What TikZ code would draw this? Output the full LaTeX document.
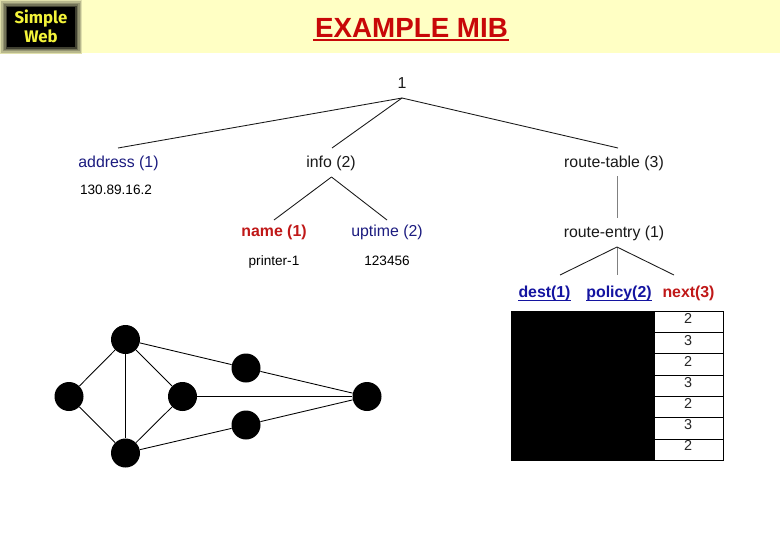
\documentclass[tikz,border=0pt]{standalone}
\usepackage{fontspec}
\setmainfont{Liberation Sans}
\newfontfamily\logofont{Fira Sans}
\newcommand{\pxfont}[1]{\fontsize{#1}{#1}\selectfont}
\definecolor{banner}{HTML}{FFFFC4}
\definecolor{titlered}{HTML}{C80808}
\definecolor{darkred}{HTML}{C01818}
\definecolor{navy}{HTML}{1C1C80}
\definecolor{linkblue}{HTML}{1414A0}
\definecolor{logoyellow}{HTML}{F4F43A}
\tikzset{
  lbl/.style={font=\pxfont{11.9}, inner sep=0pt, anchor=base, text=black!90},
  boldlbl/.style={font=\pxfont{11.9}\bfseries, inner sep=0pt, anchor=base},
  val/.style={font=\pxfont{10.2}, inner sep=0pt, anchor=base, text=black},
  edge/.style={draw=black!90, line width=0.65pt},
  greyedge/.style={draw=black!50, line width=0.65pt},
  dotnode/.style={circle, fill=black, draw=none, minimum size=21.75pt, inner sep=0pt},
  net/.style={draw=black, line width=0.65pt},
  cellnum/.style={font=\pxfont{10.8}, inner sep=0pt, anchor=base, text=black!85},
  rowline/.style={draw=black, line width=0.6pt},
  logotext/.style={inner sep=0pt, text=logoyellow, font=\logofont\bfseries\pxfont{12.6}},
}
\begin{document}
\begin{tikzpicture}[x=0.75pt,y=-0.75pt]
\useasboundingbox (0,0) rectangle (780,540);
\fill[white] (0,0) rectangle (780,540);
% banner
\fill[banner] (0,0) rectangle (780,53);
% logo
\fill[black!12!banner] (0,0) rectangle (82,53.5);
\fill[black!28!banner] (1,1) rectangle (81,52.5);
\fill[black!42!banner] (2.5,2.5) rectangle (79.5,51);
\fill[black!55!banner] (4,4) rectangle (78,50);
\fill[black!75!banner] (5.5,5.5) rectangle (76.5,48.5);
\fill[black] (7,7) rectangle (75,47);
\node[logotext] (logoa) at (41,19) {Simple};
\node[logotext] (logob) at (41,36.5) {Web};
% title
\node[inner sep=0pt, anchor=base, text=titlered, font=\pxfont{20.8}\bfseries] (title) at (411.5,37) {EXAMPLE MIB};
\fill[titlered] ([xshift=-1.5pt,yshift=-1.6pt]title.base west) rectangle ([xshift=0.8pt,yshift=-3.1pt]title.base east);
% tree
\node[lbl] (root) at (402,88) {1};
\node[lbl, text=navy] (addr) at (118.5,167) {address (1)};
\node[val] (addrv) at (116,194) {130.89.16.2};
\node[lbl] (info) at (331,167) {info (2)};
\node[lbl] (rt) at (614,167) {route-table (3)};
\node[boldlbl, text=darkred] (name) at (274,236.5) {name (1)};
\node[lbl, text=navy] (uptime) at (387,236.5) {uptime (2)};
\node[val] (namev) at (274,265) {printer-1};
\node[val] (uptimev) at (387,265) {123456};
\node[lbl] (re) at (614,237.5) {route-entry (1)};
\node[boldlbl, text=linkblue] (dest) at (544.5,297.5) {dest(1)};
\node[boldlbl, text=linkblue] (policy) at (619,297.5) {policy(2)};
\node[boldlbl, text=darkred] (next) at (688.5,297.5) {next(3)};
\draw[linkblue, line width=1pt] ([yshift=-2pt]dest.base west) -- ([yshift=-2pt]dest.base east);
\draw[linkblue, line width=1pt] ([yshift=-2pt]policy.base west) -- ([yshift=-2pt]policy.base east);
% tree connectors
\coordinate (rootj) at (402,98);
\coordinate (ca) at (118,148);
\coordinate (cb) at (332,148);
\coordinate (cc) at (618,148);
\coordinate (infoj) at (331.5,177);
\coordinate (cn) at (274,220);
\coordinate (cu) at (387,220);
\coordinate (rta) at (617,176);
\coordinate (rtb) at (617,218);
\coordinate (rej) at (617,247);
\coordinate (cd) at (560,275);
\coordinate (cp) at (617,275);
\coordinate (cx) at (674,275);
\draw[edge] (rootj) -- (ca);
\draw[edge] (rootj) -- (cb);
\draw[edge] (rootj) -- (cc);
\draw[edge] (infoj) -- (cn);
\draw[edge] (infoj) -- (cu);
\draw[greyedge] (rta) -- (rtb);
\draw[edge] (rej) -- (cd);
\draw[greyedge] (rej) -- (cp);
\draw[edge] (rej) -- (cx);
% network
\node[dotnode] (n1) at (125.5,339.5) {};
\node[dotnode] (n2) at (69,396.5) {};
\node[dotnode] (n3) at (182.5,396.5) {};
\node[dotnode] (n4) at (125.5,453) {};
\node[dotnode] (n5) at (246,368) {};
\node[dotnode] (n6) at (246,425) {};
\node[dotnode] (n7) at (367,396.5) {};
\draw[net] (n1) -- (n2);
\draw[net] (n1) -- (n3);
\draw[net] (n1) -- (n4);
\draw[net] (n2) -- (n4);
\draw[net] (n3) -- (n4);
\draw[net] (n1) -- (n5);
\draw[net] (n5) -- (n7);
\draw[net] (n3) -- (n7);
\draw[net] (n4) -- (n6);
\draw[net] (n6) -- (n7);
% table
\fill[black] (511,311) rectangle (654,461);
\draw[rowline] (654,311) rectangle (723.5,460.5);
\draw[rowline] (654,332.5) -- (723.5,332.5);
\draw[rowline] (654,353.5) -- (723.5,353.5);
\draw[rowline] (654,375.5) -- (723.5,375.5);
\draw[rowline] (654,396.5) -- (723.5,396.5);
\draw[rowline] (654,417.5) -- (723.5,417.5);
\draw[rowline] (654,439) -- (723.5,439);
\node[cellnum] (r1) at (688,323.5) {2};
\node[cellnum] (r2) at (688,345) {3};
\node[cellnum] (r3) at (688,366) {2};
\node[cellnum] (r4) at (688,387.5) {3};
\node[cellnum] (r5) at (688,408) {2};
\node[cellnum] (r6) at (688,429) {3};
\node[cellnum] (r7) at (688,450) {2};
\end{tikzpicture}
\end{document}
